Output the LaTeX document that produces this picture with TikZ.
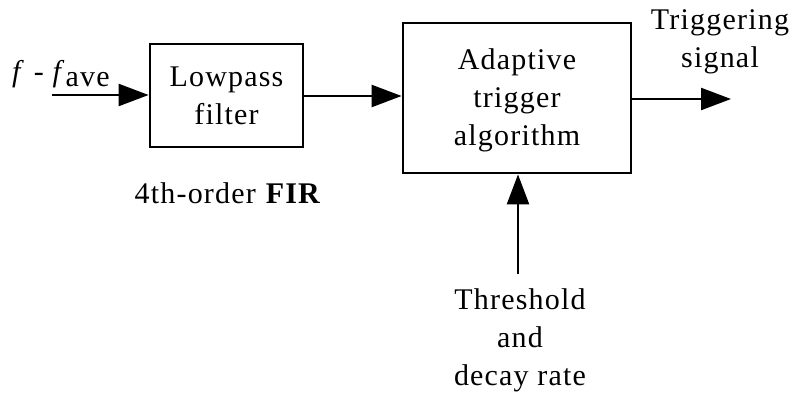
\documentclass[tikz,border=0pt]{standalone}
\usepackage{fontspec}
\setmainfont{Liberation Serif}[LetterSpace=4]
\usetikzlibrary{arrows.meta}
\begin{document}
\begin{tikzpicture}[x=1pt,y=-1pt,
  blk/.style={draw,line width=2.8pt,inner sep=0pt},
  lbl/.style={font=\fontsize{30}{38}\selectfont,align=center,inner sep=0pt},
  sig/.style={line width=2.4pt,-{Triangle[length=30pt,width=22pt]}}]
\useasboundingbox (0,0) rectangle (795,393);
\node[blk,minimum width=153pt,minimum height=103pt] (lp) at (226.5,95.5) {};
\node[lbl] (lpt) at (226.5,96) {Lowpass\\filter};
\node[blk,minimum width=228pt,minimum height=150pt] (ad) at (517,98) {};
\node[lbl] (adt) at (517,100) {Adaptive\\trigger\\algorithm};
\node[lbl] (fir) at (228,193) {4th-order \textbf{FIR}};
\node[lbl,anchor=base west] (in) at (12,82) {\textit{f} - \textit{f}\raisebox{-5pt}{ave}};
\coordinate (inS) at (52,95);
\coordinate (outE) at (731,99);
\node[lbl] (trg) at (720,42) {Triggering\\signal};
\node[lbl] (thr) at (520,340) {Threshold\\and\\decay rate};
\coordinate (thS) at (518,274);
\draw[sig] (inS) -- (inS -| lp.west);
\draw[sig] (lp.east |- 0,96) -- (ad.west |- 0,96);
\draw[sig] (ad.east |- outE) -- (outE);
\draw[sig] (thS) -- (thS |- ad.south);
\end{tikzpicture}
\end{document}
